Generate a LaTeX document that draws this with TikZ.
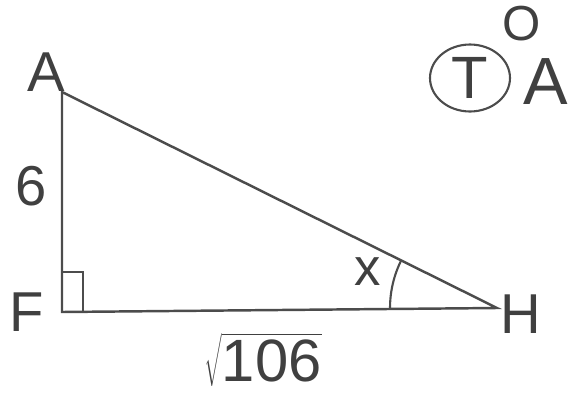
\documentclass[tikz,border=0pt]{standalone}
\usepackage{fontspec}
\setmainfont{Liberation Sans}
\usetikzlibrary{positioning, shapes.geometric}

\begin{document}
\begin{tikzpicture}[x=0.02cm, y=-0.02cm,
    side/.style={line width=1.4pt, black!70, line cap=round},
    lbl/.style={font=\fontsize{32}{34}\selectfont, text=black!75, inner sep=0pt},
    tick/.style={line width=1.2pt, black!70},
]
\useasboundingbox (0,0) rectangle (569,400);

% vertices
\coordinate (A) at (62,92);
\coordinate (F) at (62,312);
\coordinate (H) at (497,308);

\draw[side] (A) -- (F) -- (H) -- cycle;

% right angle at F
\draw[tick] (62,272) -- (83,272) -- (83,311);
% angle x at H
\draw[tick] (H) ++(180:2.14cm) arc (180:153.6:2.14cm);

% labels
\node[lbl] (lA) at (46,72) {A};
\node[lbl] (l6) at (31,186) {6};
\node[lbl] (lF) at (27,312) {F};
\node[lbl] (lH) at (521,314) {H};
\node[lbl, font=\fontsize{30}{32}\selectfont] (lx) at (368,272) {x};
\node[lbl, font=\fontsize{34}{36}\selectfont] (base) at (263,360) {$\sqrt{\mbox{106}}$};

% T O A in the corner
\node[lbl, font=\fontsize{34}{36}\selectfont, draw=black!70, line width=1.2pt,
      ellipse, minimum width=1.6cm, minimum height=1.34cm] (T) at (470,78) {T};
\node[lbl, font=\fontsize{28}{30}\selectfont] (O) at (522,24) {O};
\node[lbl, font=\fontsize{38}{40}\selectfont] (TA) at (546,82) {A};
\end{tikzpicture}
\end{document}
